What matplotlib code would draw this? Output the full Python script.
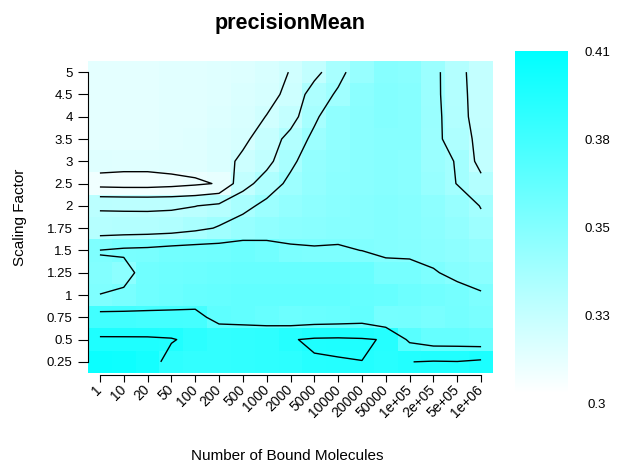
import numpy as np
import matplotlib
matplotlib.use('Agg')
import matplotlib.pyplot as plt
from matplotlib.colors import LinearSegmentedColormap

plt.rcParams['font.family'] = ['Liberation Sans', 'DejaVu Sans']

# axes categories
molecules = ['1', '10', '20', '50', '100', '200', '500', '1000', '2000', '5000',
             '10000', '20000', '50000', '1e+05', '2e+05', '5e+05', '1e+06']
scaling = ['0.25', '0.5', '0.75', '1', '1.25', '1.5', '1.75', '2',
           '2.5', '3', '3.5', '4', '4.5', '5']

# precision mean, one row per scaling factor (0.25 first), one value per molecule count
precision_mean = [
    [0.4050, 0.4040, 0.4011, 0.3901, 0.3880, 0.3880, 0.3890, 0.3900, 0.3910, 0.3937, 0.3943, 0.3949, 0.3930, 0.3948, 0.3960, 0.3955, 0.3981],
    [0.3970, 0.3970, 0.3970, 0.3960, 0.3915, 0.3880, 0.3890, 0.3900, 0.3940, 0.3970, 0.3975, 0.3965, 0.3940, 0.3718, 0.3664, 0.3662, 0.3642],
    [0.3817, 0.3813, 0.3806, 0.3804, 0.3801, 0.3694, 0.3678, 0.3658, 0.3634, 0.3646, 0.3654, 0.3671, 0.3595, 0.3600, 0.3580, 0.3600, 0.3580],
    [0.35505, 0.3579, 0.3620, 0.3640, 0.3660, 0.3670, 0.3680, 0.3680, 0.3680, 0.3680, 0.3680, 0.3670, 0.3660, 0.3630, 0.3610, 0.3595, 0.3561],
    [0.3538, 0.3495, 0.3615, 0.3630, 0.3640, 0.3650, 0.3660, 0.3660, 0.3660, 0.3660, 0.3660, 0.3650, 0.3590, 0.3590, 0.3560, 0.3520, 0.3500],
    [0.3553, 0.3575, 0.3583, 0.3603, 0.3614, 0.3616, 0.3632, 0.3607, 0.3570, 0.3560, 0.3561, 0.3549, 0.3530, 0.3525, 0.3510, 0.3490, 0.3460],
    [0.3321, 0.3325, 0.3330, 0.3340, 0.3370, 0.3410, 0.3450, 0.3480, 0.3500, 0.3510, 0.3520, 0.3520, 0.3530, 0.3520, 0.3500, 0.3470, 0.3424],
    [0.3294, 0.3292, 0.3290, 0.3290, 0.3298, 0.3320, 0.3370, 0.3427, 0.3460, 0.3490, 0.3510, 0.3520, 0.3530, 0.3520, 0.3490, 0.3450, 0.3396],
    [0.3065, 0.3060, 0.3060, 0.3070, 0.3086, 0.3106, 0.3263, 0.3345, 0.3425, 0.3470, 0.3500, 0.3510, 0.3520, 0.3510, 0.3450, 0.3397, 0.3330],
    [0.3139, 0.3135, 0.3135, 0.3140, 0.3140, 0.3160, 0.3220, 0.3270, 0.3377, 0.3462, 0.3490, 0.3510, 0.3520, 0.3510, 0.3434, 0.3394, 0.3265],
    [0.3120, 0.3120, 0.3120, 0.3130, 0.3140, 0.3160, 0.3180, 0.3247, 0.3331, 0.3426, 0.3480, 0.3510, 0.3520, 0.3520, 0.3430, 0.3350, 0.3270],
    [0.3120, 0.3120, 0.3120, 0.3130, 0.3130, 0.3150, 0.3170, 0.3202, 0.3260, 0.3380, 0.3480, 0.3510, 0.3530, 0.3520, 0.3435, 0.3335, 0.3260],
    [0.3120, 0.3120, 0.3120, 0.3130, 0.3130, 0.3140, 0.3160, 0.3180, 0.3216, 0.3354, 0.3412, 0.3500, 0.3530, 0.3520, 0.3430, 0.3330, 0.3260],
    [0.3120, 0.3120, 0.3120, 0.3130, 0.3130, 0.3140, 0.3150, 0.3170, 0.3203, 0.3265, 0.3375, 0.3450, 0.3520, 0.3510, 0.3430, 0.3327, 0.3256],
]

contour_levels = [0.31, 0.32, 0.33, 0.34, 0.355, 0.375, 0.395]
z_range = (0.30, 0.41)
legend_labels = ['0.41', '0.38', '0.35', '0.33', '0.3']

W, H = 617, 467
fig = plt.figure(figsize=(W / 100, H / 100), dpi=100)


def px_axes(left, top, right, bottom):
    # axes placed by pixel box (top-left origin)
    return fig.add_axes([left / W, 1 - bottom / H, (right - left) / W, (bottom - top) / H])


cmap = LinearSegmentedColormap.from_list('white_cyan', ['#ffffff', '#00ffff'])
z = np.array(precision_mean)
nx, ny = len(molecules), len(scaling)

ax = px_axes(88, 61, 493, 373)
ax.imshow(z, origin='lower', cmap=cmap, vmin=z_range[0], vmax=z_range[1],
          aspect='auto', interpolation='nearest',
          extent=(-0.5, nx - 0.5, -0.5, ny - 0.5))
ax.contour(np.arange(nx), np.arange(ny), z, levels=contour_levels,
           colors='black', linewidths=1.0)
ax.set_xlim(-0.5, nx - 0.5)
ax.set_ylim(-0.5, ny - 0.5)

for s in ['top', 'right']:
    ax.spines[s].set_visible(False)
ax.spines['left'].set_bounds(0, ny - 1)
ax.spines['bottom'].set_bounds(0, nx - 1)
ax.spines['bottom'].set_position(('outward', 1.5))
for s in ['left', 'bottom']:
    ax.spines[s].set_linewidth(0.8)
ax.tick_params(axis='y', length=7, width=0.8, pad=4)
ax.tick_params(axis='x', length=5, width=0.8, pad=4)

ax.set_xticks(range(nx))
ax.set_xticklabels(molecules, fontsize=10)
plt.setp(ax.get_xticklabels(), rotation=45, ha='right', va='center',
         rotation_mode='anchor')
ax.set_yticks(range(ny))
ax.set_yticklabels(scaling, fontsize=9.5)

fig.text(290.5 / W, 1 - 24 / H, 'precisionMean', ha='center', va='center',
         fontsize=15.5, fontweight='bold')
fig.text(287.5 / W, 1 - 456 / H, 'Number of Bound Molecules', ha='center',
         va='center', fontsize=11)
fig.text(20 / W, 1 - 217 / H, 'Scaling Factor', ha='center', va='center',
         rotation=90, fontsize=11)

# colour key
cax = px_axes(515, 51, 568, 393)
grad = np.linspace(z_range[0], z_range[1], 256).reshape(-1, 1)
cax.imshow(grad, origin='lower', cmap=cmap, vmin=z_range[0], vmax=z_range[1],
           aspect='auto')
cax.axis('off')
for lab, y in zip(legend_labels, np.linspace(53, 405, len(legend_labels))):
    fig.text(597 / W, 1 - y / H, lab, ha='center', va='center', fontsize=9.5)

fig.savefig('out.png', dpi=100)
